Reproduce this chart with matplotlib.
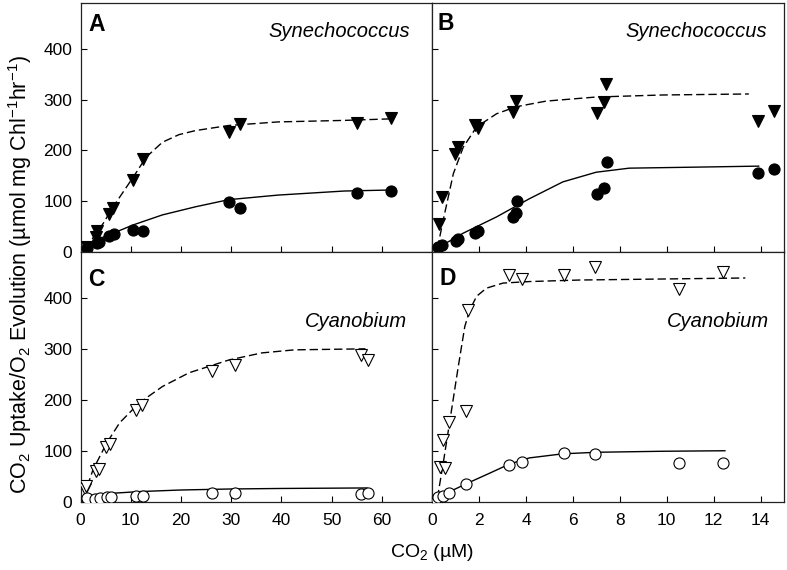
"""
CO2 uptake / O2 evolution vs CO2 for Synechococcus and Cyanobium (panels A-D).
"""

import matplotlib
matplotlib.use("Agg")
import matplotlib.pyplot as plt
from matplotlib.ticker import FixedLocator

plt.rcParams["font.family"] = ["Liberation Sans", "DejaVu Sans"]
plt.rcParams["mathtext.fontset"] = "custom"
plt.rcParams["mathtext.rm"] = "Liberation Sans"
plt.rcParams["mathtext.it"] = "Liberation Sans:italic"

# Panel A - Synechococcus (filled markers)
a_tri_x = [1.3, 3.0, 3.2, 5.7, 6.5, 10.4, 12.4, 29.5, 31.7, 55.0, 61.7]
a_tri_y = [10, 30, 42, 75, 87, 141, 183, 237, 252, 254, 263]
a_cir_x = [1.3, 3.2, 3.6, 5.7, 6.6, 10.4, 12.4, 29.5, 31.7, 55.0, 61.7]
a_cir_y = [8, 17, 20, 31, 35, 43, 41, 99, 86, 116, 120]
a_dash_x = [1.0, 2.5, 4.5, 6.5, 7.8, 10.4, 13.1, 16.3, 19.6, 22.9, 29.5, 39.3, 52.5, 61.7]
a_dash_y = [5, 28, 56, 89, 108, 146, 187, 216, 231, 239, 249, 256, 259, 262]
a_solid_x = [1.2, 3.2, 6.5, 10.4, 16.3, 22.9, 29.5, 39.3, 52.5, 61.7]
a_solid_y = [7, 24, 37, 53, 73, 89, 103, 112, 120, 122]

# Panel B - Synechococcus
b_tri_x = [0.30, 0.40, 0.97, 1.11, 1.82, 1.96, 3.44, 3.59, 7.01, 7.34, 7.41, 13.89, 14.57]
b_tri_y = [56, 108, 192, 206, 249, 244, 275, 298, 273, 295, 331, 258, 278]
b_cir_x = [0.26, 0.40, 1.01, 1.10, 1.82, 1.96, 3.44, 3.56, 3.61, 7.01, 7.34, 7.44, 13.89, 14.57]
b_cir_y = [10, 14, 22, 25, 38, 41, 69, 76, 100, 114, 126, 178, 156, 164]
b_dash_x = [0.22, 0.47, 0.90, 1.32, 1.89, 2.74, 3.59, 4.86, 6.99, 9.81, 13.5]
b_dash_y = [7, 63, 154, 206, 246, 272, 286, 297, 305, 309, 311]
b_solid_x = [0.12, 1.32, 2.74, 4.15, 5.57, 6.99, 8.4, 11.23, 13.92]
b_solid_y = [5, 37, 69, 105, 138, 157, 165, 167, 169]

# Panel C - Cyanobium (open markers)
c_tri_x = [0.9, 1.1, 3.0, 3.7, 5.0, 5.8, 11.1, 12.3, 26.2, 30.8, 55.9, 57.3]
c_tri_y = [24, 31, 61, 64, 108, 113, 180, 190, 257, 269, 288, 278]
c_cir_x = [1.2, 2.9, 3.8, 5.2, 6.0, 11.1, 12.5, 26.2, 30.8, 55.9, 57.3]
c_cir_y = [7, 5, 7, 10, 10, 12, 12, 17, 17, 15, 17]
c_dash_x = [0.55, 2.5, 5.2, 7.8, 11.7, 16.3, 21.6, 29.5, 36.1, 42.6, 56.7]
c_dash_y = [8, 63, 115, 155, 194, 226, 253, 278, 292, 298, 300]
c_solid_x = [0.3, 1, 2, 4, 7, 12, 20, 30, 40, 57]
c_solid_y = [0, 5, 9, 13, 17, 20, 23, 25, 26, 27]

# Panel D - Cyanobium
d_tri_x = [0.33, 0.54, 0.45, 0.73, 1.44, 1.53, 3.27, 3.84, 5.64, 6.96, 10.52, 12.39]
d_tri_y = [69, 66, 122, 156, 178, 377, 445, 437, 445, 460, 418, 450]
d_cir_x = [0.2, 0.26, 0.47, 0.71, 1.44, 3.27, 3.84, 5.64, 6.96, 10.52, 12.39]
d_cir_y = [4, 9, 12, 18, 35, 73, 77, 95, 94, 76, 76]
d_dash_x = [0.22, 0.47, 0.76, 1.11, 1.39, 1.60, 1.89, 2.31, 3.02, 4.15, 6.28, 9.81, 13.35]
d_dash_y = [7, 76, 161, 265, 344, 376, 403, 419, 429, 432, 435, 437, 439]
d_solid_x = [0.19, 0.76, 1.44, 2.45, 3.30, 4.15, 5.57, 6.99, 9.81, 12.48]
d_solid_y = [5, 20, 35, 56, 74, 86, 94, 97, 99, 100]

left_ticks = [0, 10, 20, 30, 40, 50, 60, 70]
left_labels = ["0", "10", "20", "30", "40", "50", "60", ""]
right_ticks = [0, 2, 4, 6, 8, 10, 12, 14]
y_ticks = [0, 100, 200, 300, 400]

fig = plt.figure(figsize=(7.87, 5.70), dpi=100)

# axes rectangles in figure fractions (left, bottom, width, height)
ax_a = fig.add_axes([0.1023, 0.5579, 0.4469, 0.4368])
ax_b = fig.add_axes([0.5492, 0.5579, 0.4470, 0.4368])
ax_c = fig.add_axes([0.1023, 0.1198, 0.4469, 0.4381])
ax_d = fig.add_axes([0.5492, 0.1198, 0.4470, 0.4381])

panels = [
    (ax_a, "A", "Synechococcus", (0.022, 0.912), (0.937, 0.884), True,
     a_tri_x, a_tri_y, a_cir_x, a_cir_y, a_dash_x, a_dash_y, a_solid_x, a_solid_y),
    (ax_b, "B", "Synechococcus", (0.016, 0.916), (0.951, 0.884), True,
     b_tri_x, b_tri_y, b_cir_x, b_cir_y, b_dash_x, b_dash_y, b_solid_x, b_solid_y),
    (ax_c, "C", "Cyanobium", (0.022, 0.888), (0.927, 0.721), False,
     c_tri_x, c_tri_y, c_cir_x, c_cir_y, c_dash_x, c_dash_y, c_solid_x, c_solid_y),
    (ax_d, "D", "Cyanobium", (0.020, 0.895), (0.958, 0.721), False,
     d_tri_x, d_tri_y, d_cir_x, d_cir_y, d_dash_x, d_dash_y, d_solid_x, d_solid_y),
]

dash_style = (0, (6, 2.8))

for (ax, letter, species, letter_pos, species_pos, filled,
     tx, ty, cx, cy, dx, dy, sx, sy) in panels:
    # fitted curves
    ax.plot(dx, dy, color="black", linewidth=1.0, linestyle=dash_style, zorder=2)
    ax.plot(sx, sy, color="black", linewidth=1.0, linestyle="-", zorder=2)

    # measured points
    face = "black" if filled else "white"
    ax.plot(tx, ty, linestyle="none", marker="v", markersize=8.5,
            markerfacecolor=face, markeredgecolor="black",
            markeredgewidth=0.8, zorder=3)
    ax.plot(cx, cy, linestyle="none", marker="o", markersize=8,
            markerfacecolor=face, markeredgecolor="black",
            markeredgewidth=0.8, zorder=3)

    ax.text(letter_pos[0], letter_pos[1], letter, transform=ax.transAxes,
            fontsize=16.5, fontweight="bold", ha="left", va="center")
    ax.text(species_pos[0], species_pos[1], species, transform=ax.transAxes,
            fontsize=14.5, fontstyle="italic", ha="right", va="center")

    ax.set_ylim(0, 490)
    ax.yaxis.set_major_locator(FixedLocator(y_ticks))
    ax.tick_params(direction="in", length=4, width=0.8, labelsize=12.5,
                   top=False, right=False)
    ax.tick_params(axis="y", pad=6)
    ax.tick_params(axis="x", pad=8)
    for spine in ax.spines.values():
        spine.set_linewidth(0.9)
        spine.set_color("#222222")

for ax in (ax_a, ax_c):
    ax.set_xlim(0, 70)
    ax.set_xticks(left_ticks)
for ax in (ax_b, ax_d):
    ax.set_xlim(0, 15)
    ax.set_xticks(right_ticks)

ax_c.set_xticklabels(left_labels)
ax_a.set_xticklabels([])
ax_b.set_xticklabels([])
ax_b.set_yticklabels([])
ax_d.set_yticklabels([])

fig.text(0.026, 0.519, r"CO$_2$ Uptake/O$_2$ Evolution (µmol mg Chl$^{-1}$hr$^{-1}$)",
         rotation=90, ha="center", va="center", fontsize=15.5)
fig.text(0.549, 0.031, r"CO$_2$ (µM)", ha="center", va="center", fontsize=14)

fig.savefig("out.png", dpi=100)
